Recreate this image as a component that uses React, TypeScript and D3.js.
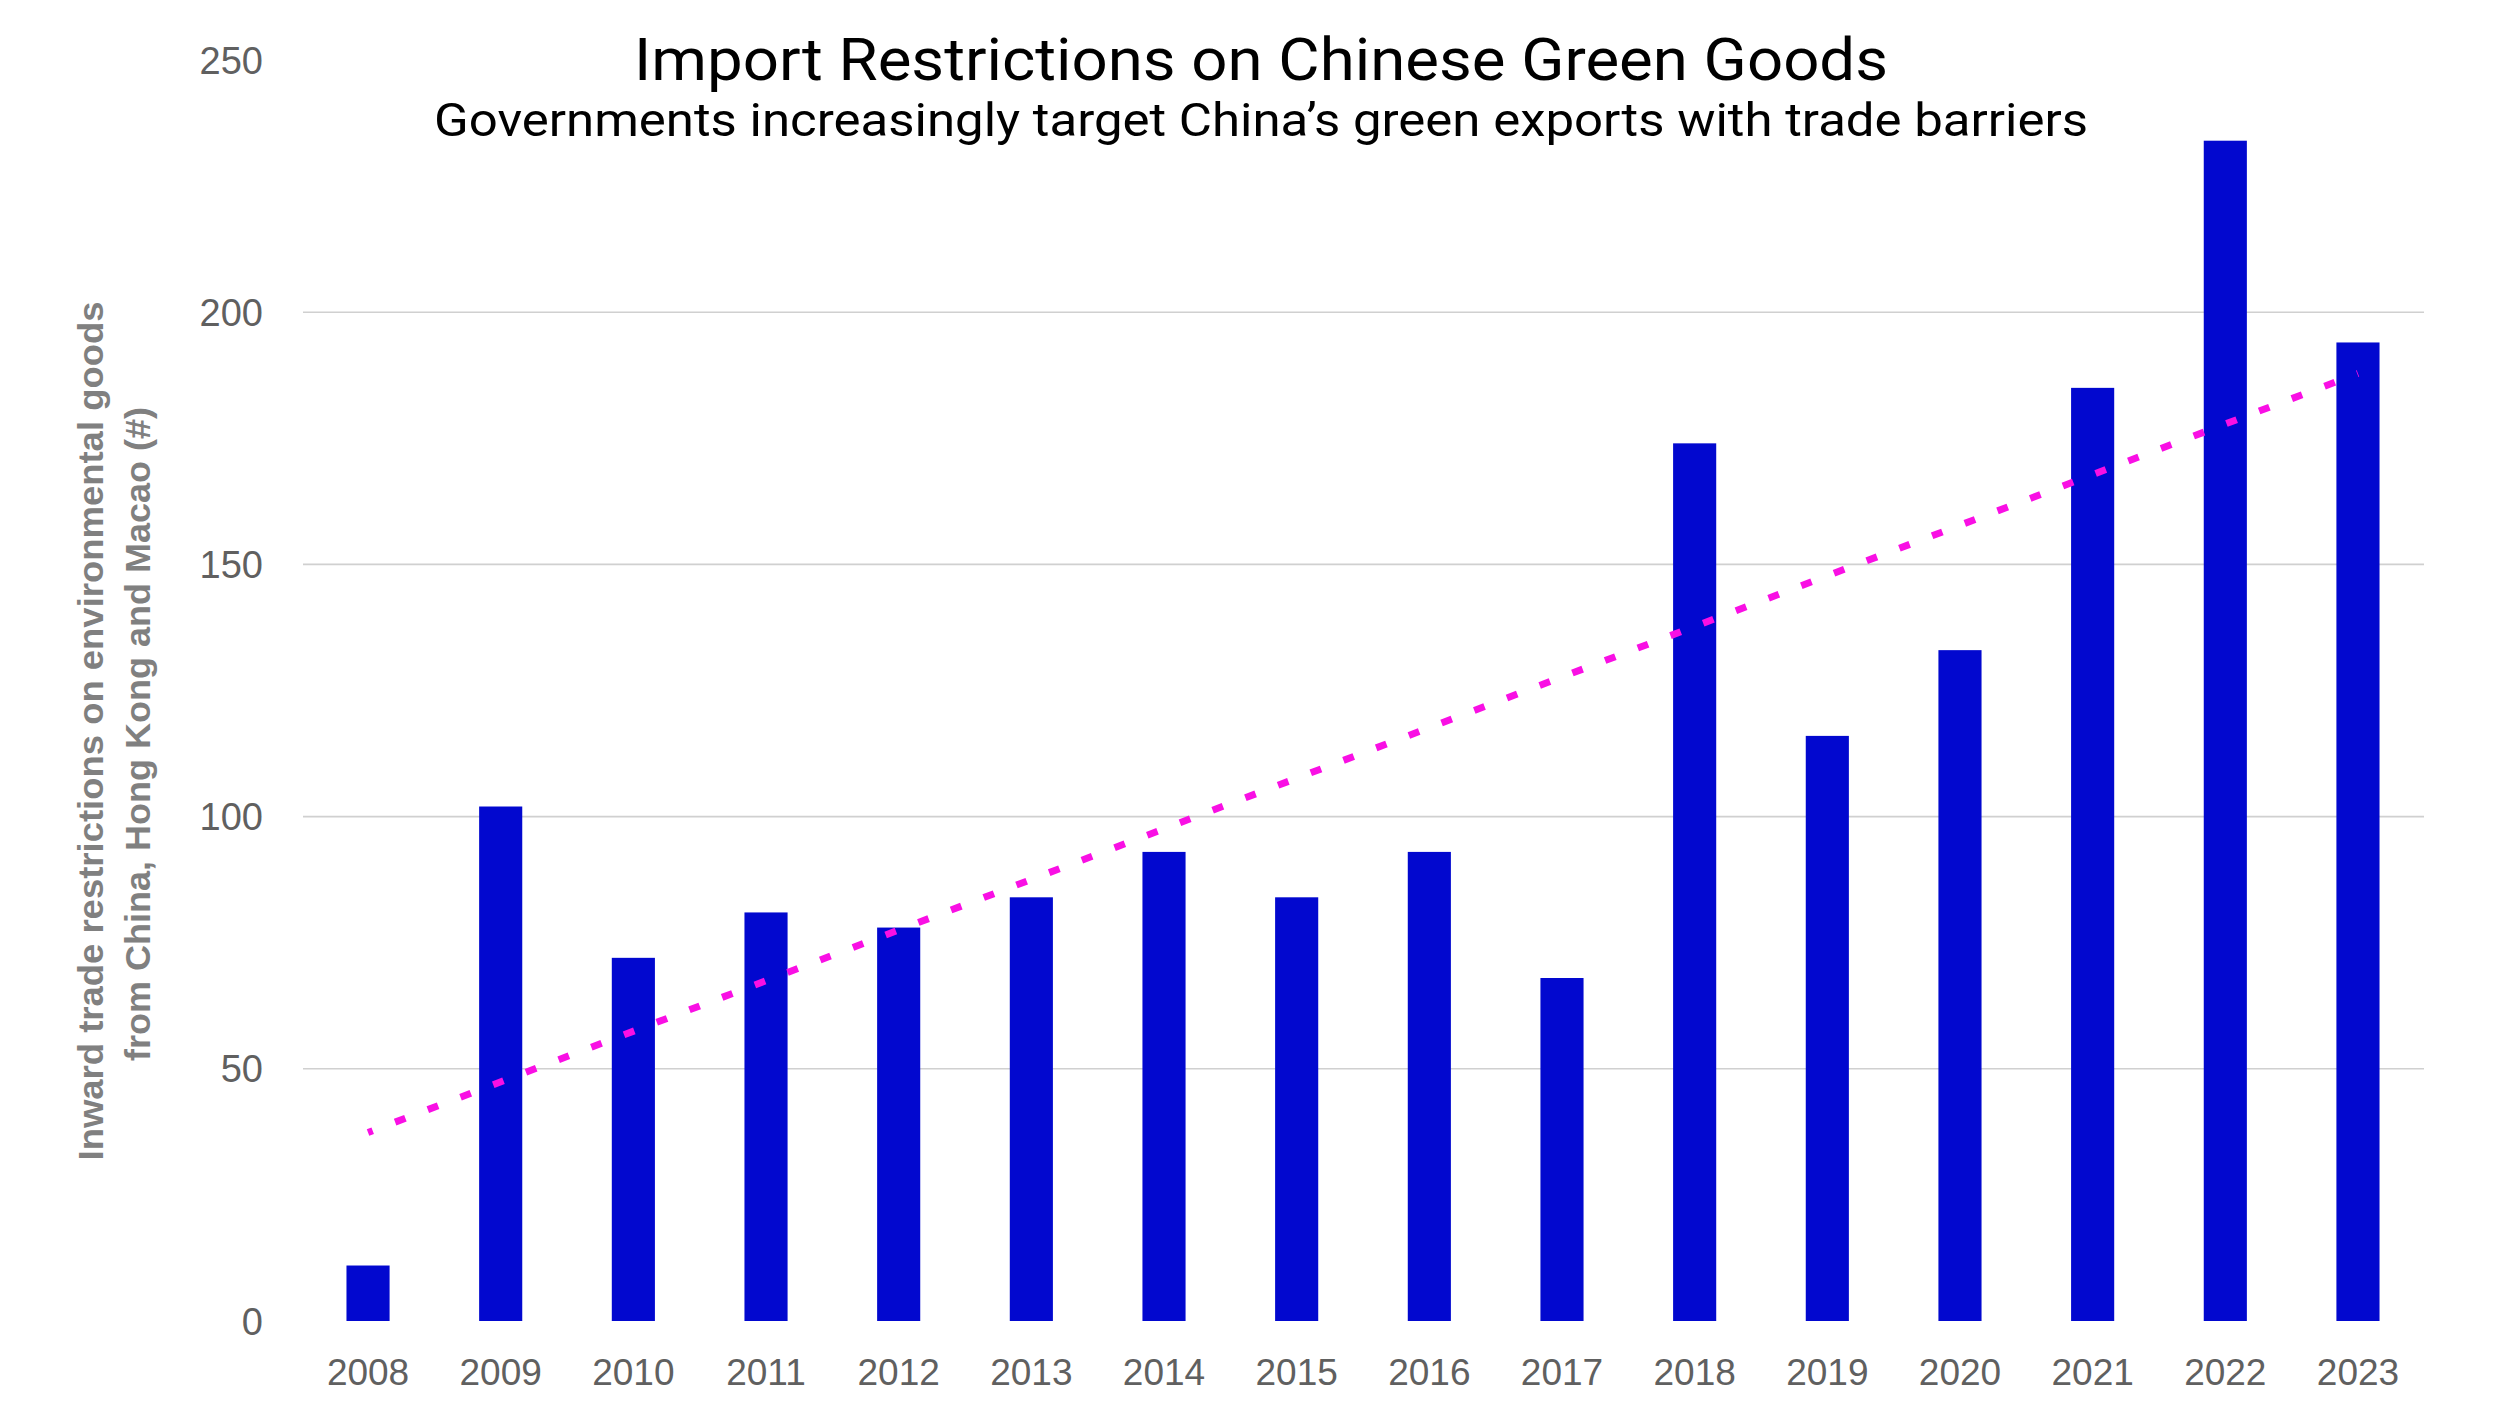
import React from "react";
import * as d3 from "d3";

const years: string[] = ["2008","2009","2010","2011","2012","2013","2014","2015","2016","2017","2018","2019","2020","2021","2022","2023"];
const restrictions: number[] = [11, 102, 72, 81, 78, 84, 93, 84, 93, 68, 174, 116, 133, 185, 234, 194];
const yTicks: number[] = [0, 50, 100, 150, 200, 250];
const gridTicks: number[] = [50, 100, 150, 200];

const titleText = "Import Restrictions on Chinese Green Goods";
const subtitleText = "Governments increasingly target China\u2019s green exports with trade barriers";
const yTitleLine1 = "Inward trade restrictions on environmental goods";
const yTitleLine2 = "from China, Hong Kong and Macao (#)";

const W = 2496;
const H = 1404;

export default function App() {
  const x = d3.scaleBand<string>()
    .domain(years)
    .range([301.7, 2424.3])
    .paddingInner(0.675)
    .paddingOuter(0.3375);
  const y = d3.scaleLinear().domain([0, 250]).range([1321, 60]);

  // least-squares linear trendline from the data
  const idx = restrictions.map((_, i) => i);
  const mx = d3.mean(idx) as number;
  const my = d3.mean(restrictions) as number;
  const sxy = d3.sum(idx, (i) => (i - mx) * (restrictions[i] - my));
  const sxx = d3.sum(idx, (i) => (i - mx) * (i - mx));
  const slope = sxy / sxx;
  const icpt = my - slope * mx;
  const trendPts: [number, number][] = [0, years.length - 1].map((i) => [
    (x(years[i]) as number) + x.bandwidth() / 2,
    y(icpt + slope * i),
  ]);
  const line = d3.line();

  return (
    <svg
      width={W}
      height={H}
      viewBox={`0 0 ${W} ${H}`}
      style={{ position: "absolute", left: 0, top: 0, background: "#ffffff" }}
    >
      <rect x={0} y={0} width={W} height={H} fill="#ffffff" />
      {/* gridlines */}
      {gridTicks.map((t) => (
        <line key={t} x1={303} x2={2424} y1={y(t)} y2={y(t)} stroke="#d0d0d0" strokeWidth={1.6} />
      ))}
      {/* y tick labels */}
      {yTicks.map((t) => (
        <text
          key={t}
          x={263}
          y={y(t)}
          dy="0.36em"
          textAnchor="end"
          fontFamily="'Liberation Sans', Arial, sans-serif"
          fontSize={38}
          fill="#606060"
        >
          {t}
        </text>
      ))}
      {/* bars */}
      {years.map((yr, i) => (
        <rect
          key={yr}
          x={x(yr)}
          y={y(restrictions[i])}
          width={x.bandwidth()}
          height={y(0) - y(restrictions[i])}
          fill="#0208CF"
        />
      ))}
      {/* trendline */}
      <path
        d={line(trendPts) || ""}
        fill="none"
        stroke="#F90FE4"
        strokeWidth={7}
        strokeDasharray="11 24"
        strokeDashoffset={6}
      />
      {/* x labels */}
      {years.map((yr) => (
        <text
          key={yr}
          x={(x(yr) as number) + x.bandwidth() / 2}
          y={1385}
          textAnchor="middle"
          fontFamily="'Liberation Sans', Arial, sans-serif"
          fontSize={37}
          fill="#606060"
        >
          {yr}
        </text>
      ))}
      {/* titles */}
      <text
        x={1261}
        y={80}
        textAnchor="middle"
        fontFamily="Roboto, 'Noto Sans', sans-serif"
        fontSize={60}
        fill="#000000"
        textLength={1254}
        lengthAdjust="spacingAndGlyphs"
      >
        {titleText}
      </text>
      <text
        x={1261}
        y={136}
        textAnchor="middle"
        fontFamily="Roboto, 'Noto Sans', sans-serif"
        fontSize={47}
        fill="#000000"
        textLength={1654}
        lengthAdjust="spacingAndGlyphs"
      >
        {subtitleText}
      </text>
      {/* y axis title */}
      <text
        transform="translate(103,731) rotate(-90)"
        textAnchor="middle"
        fontFamily="'Liberation Sans', Arial, sans-serif"
        fontWeight="bold"
        fontSize={35}
        fill="#808080"
        textLength={859}
        lengthAdjust="spacingAndGlyphs"
      >
        {yTitleLine1}
      </text>
      <text
        transform="translate(150,734) rotate(-90)"
        textAnchor="middle"
        fontFamily="'Liberation Sans', Arial, sans-serif"
        fontWeight="bold"
        fontSize={35}
        fill="#808080"
        textLength={654}
        lengthAdjust="spacingAndGlyphs"
      >
        {yTitleLine2}
      </text>
    </svg>
  );
}
